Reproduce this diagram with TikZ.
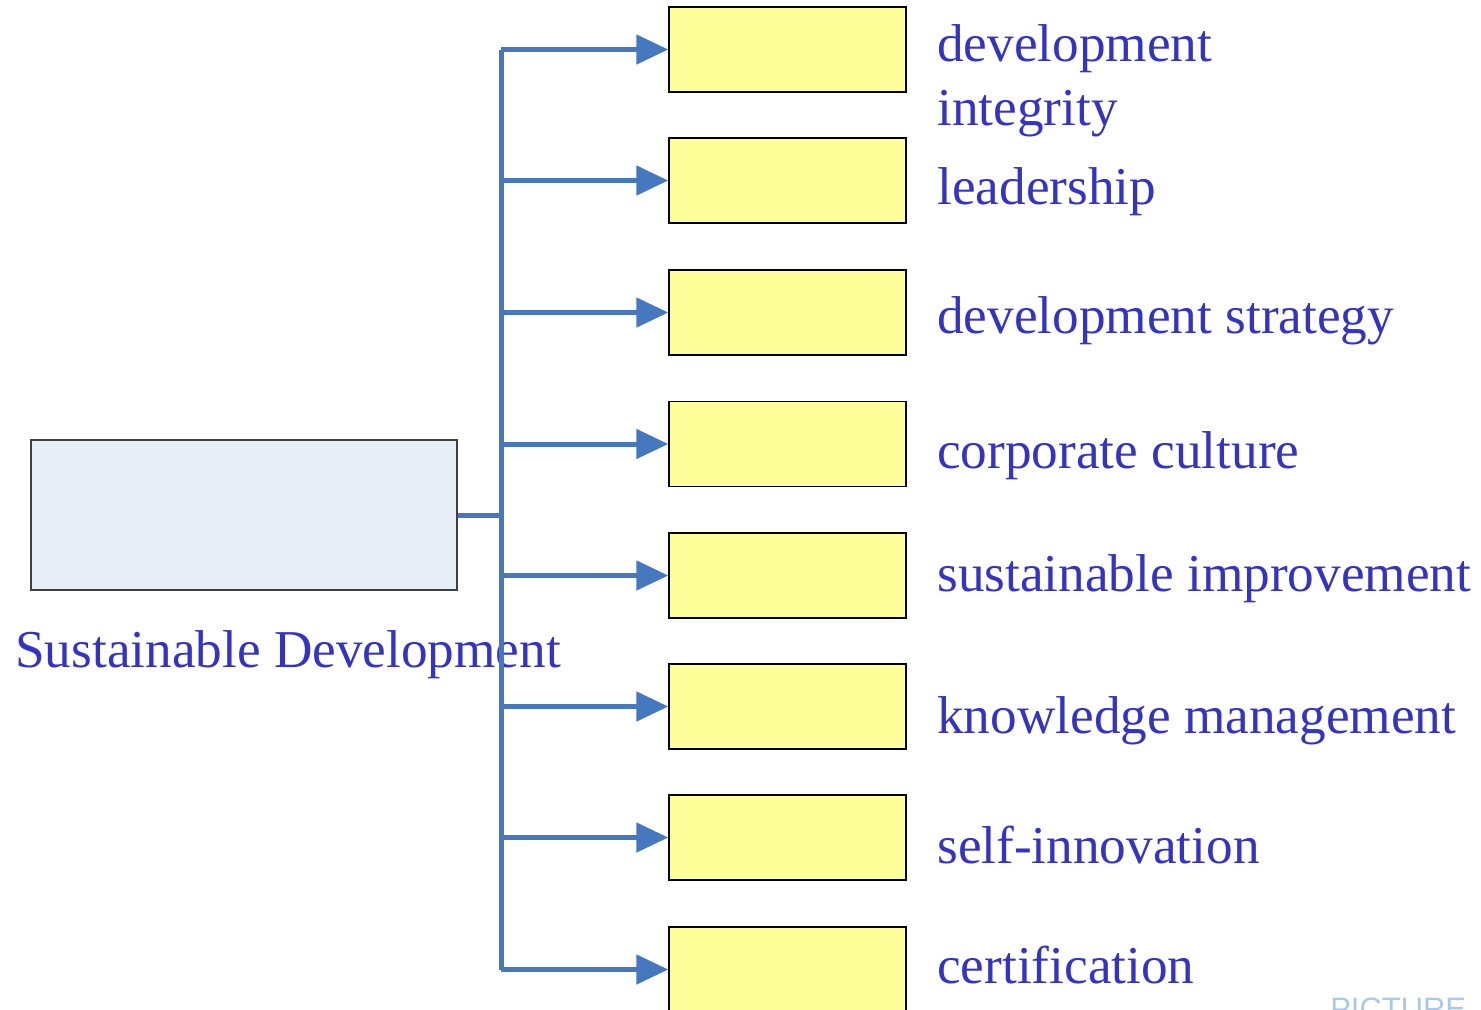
\documentclass[tikz,border=0pt]{standalone}
\usepackage{fontspec}
\setmainfont{Liberation Serif}
\newfontfamily\markfont{Liberation Sans}
\usetikzlibrary{arrows.meta}
\definecolor{linkblue}{RGB}{70,120,192}
\definecolor{labelblue}{RGB}{51,51,204}
\definecolor{rootfill}{RGB}{232,238,248}
\definecolor{itemfill}{RGB}{255,255,153}
\definecolor{markblue}{RGB}{170,200,232}
\tikzset{
  % box on the left
  root box/.style={draw=black!75,fill=rootfill,line width=0.03cm,
    minimum width=8.52cm,minimum height=3cm,inner sep=0pt},
  % yellow boxes on the right
  item box/.style={draw=black,fill=itemfill,line width=0.03cm,
    minimum width=4.74cm,minimum height=1.7cm,inner sep=0pt},
  % blue texts
  item label/.style={text=labelblue,font=\fontsize{30.3}{36}\selectfont,
    anchor=base west,inner sep=0pt,align=left},
  % blue connectors
  link/.style={draw=linkblue,line width=0.1cm},
  link arrow/.style={link,-{Triangle[length=0.64cm,width=0.58cm]}},
}

\begin{document}
\begin{tikzpicture}[x=0.02cm,y=-0.02cm]
\useasboundingbox (0,0) rectangle (1481,1009);
\node[root box] (sd) at (244,515) {};
\node[item label] (sdlabel) at (15,667) {Sustainable Development};
\node[item box] (b1) at (787.5,49.5) {};
\node[item box] (b2) at (787.5,180.5) {};
\node[item box] (b3) at (787.5,312.5) {};
\node[item box] (b4) at (787.5,444) {};
\node[item box] (b5) at (787.5,575.5) {};
\node[item box] (b6) at (787.5,706.5) {};
\node[item box] (b7) at (787.5,837.5) {};
\node[item box] (b8) at (787.5,969.5) {};
\node[item label] (l1) at (937,125) {development\\integrity};
\node[item label] (l2) at (937,204) {leadership};
\node[item label] (l3) at (937,333) {development strategy};
\node[item label] (l4) at (937,468) {corporate culture};
\node[item label] (l5) at (937,591) {sustainable improvement};
\node[item label] (l6) at (937,733) {knowledge management};
\node[item label] (l7) at (937,863) {self-innovation};
\node[item label] (l8) at (937,983) {certification};
\node[anchor=base west,inner sep=0pt,text=markblue,
  font=\markfont\fontsize{17.6}{20}\selectfont] (mark) at (1330,1019) {PICTURE};
\coordinate (t1) at (501,49.5);
\coordinate (t2) at (501,180.5);
\coordinate (t3) at (501,312.5);
\coordinate (t4) at (501,444);
\coordinate (t5) at (501,575.5);
\coordinate (t6) at (501,706.5);
\coordinate (t7) at (501,837.5);
\coordinate (t8) at (501,969.5);
\begin{scope}
  \path [link] (t1) -- (t8);
  \path [link] (sd.east) -- (sd.east -| t1);
\end{scope}
\begin{scope}
  \path [link arrow] (t1) -- (b1.west);
  \path [link arrow] (t2) -- (b2.west);
  \path [link arrow] (t3) -- (b3.west);
  \path [link arrow] (t4) -- (b4.west);
  \path [link arrow] (t5) -- (b5.west);
  \path [link arrow] (t6) -- (b6.west);
  \path [link arrow] (t7) -- (b7.west);
  \path [link arrow] (t8) -- (b8.west);
\end{scope}
\end{tikzpicture}
\end{document}
